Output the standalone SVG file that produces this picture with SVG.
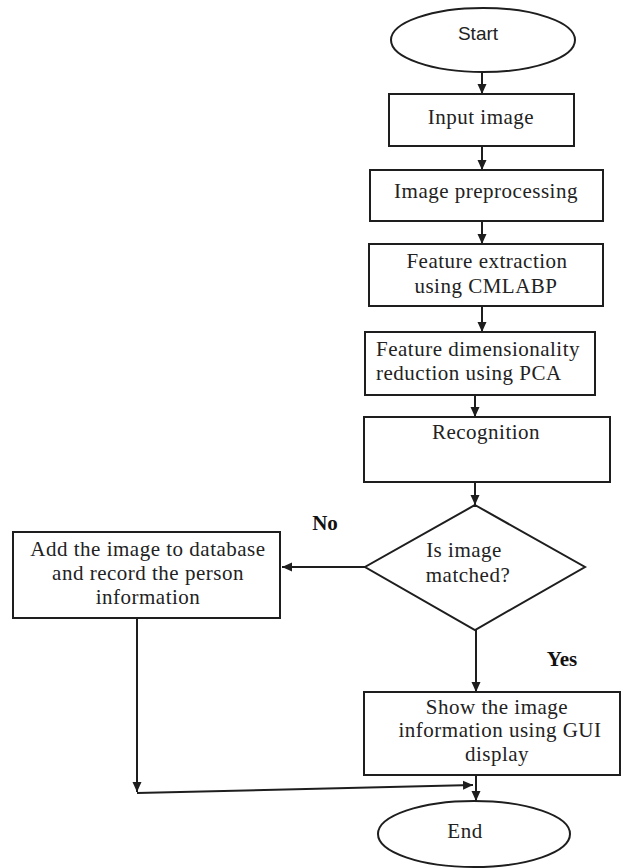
<svg xmlns="http://www.w3.org/2000/svg" width="621" height="868" viewBox="0 0 621 868">
<style>
.box{fill:#fff;stroke:#1e1e1e;stroke-width:2}
.t{font-family:"Liberation Serif","Times New Roman",serif;font-size:21px;letter-spacing:0.5px;fill:#222;text-anchor:middle}
.l{text-anchor:start}
.s{font-family:"Liberation Sans",Arial,sans-serif;font-size:19px;fill:#222;text-anchor:middle}
.b{font-family:"Liberation Serif","Times New Roman",serif;font-size:21px;font-weight:bold;fill:#111;text-anchor:middle}
.c{fill:none;stroke:#1e1e1e;stroke-width:2}
</style>
<defs>
<marker id="ah" markerUnits="userSpaceOnUse" markerWidth="10" markerHeight="10" viewBox="0 0 10 10" refX="10" refY="5" orient="auto">
<path d="M0,0.5 L10,5 L0,9.5 Z" fill="#1e1e1e"/>
</marker>
</defs>
<rect width="621" height="868" fill="#fff"/>
<g id="connectors">
<line class="c" x1="482" y1="72" x2="482" y2="94" marker-end="url(#ah)"/>
<line class="c" x1="482" y1="146" x2="482" y2="170" marker-end="url(#ah)"/>
<line class="c" x1="482" y1="221" x2="482" y2="244" marker-end="url(#ah)"/>
<line class="c" x1="482" y1="306" x2="482" y2="332" marker-end="url(#ah)"/>
<line class="c" x1="475" y1="395" x2="475" y2="417" marker-end="url(#ah)"/>
<line class="c" x1="475" y1="482" x2="475" y2="505" marker-end="url(#ah)"/>
<line class="c" x1="365" y1="567" x2="282" y2="567" marker-end="url(#ah)"/>
<line class="c" x1="476" y1="630" x2="476" y2="692" marker-end="url(#ah)"/>
<line class="c" x1="137" y1="618" x2="137" y2="792" marker-end="url(#ah)"/>
<line class="c" x1="137" y1="793" x2="473" y2="785" marker-end="url(#ah)"/>
<line class="c" x1="476" y1="775" x2="476" y2="801" marker-end="url(#ah)"/>
</g>
<g id="start">
<ellipse class="box" cx="483" cy="40" rx="92" ry="32"/>
<text class="s" x="478" y="40">Start</text>
</g>
<g id="input">
<rect class="box" x="389" y="94" width="185" height="52"/>
<text class="t" x="481" y="124">Input image</text>
</g>
<g id="preprocess">
<rect class="box" x="370" y="170" width="233" height="51"/>
<text class="t" x="486" y="198">Image preprocessing</text>
</g>
<g id="extract">
<rect class="box" x="369" y="244" width="234" height="62"/>
<text class="t" x="487" y="268">Feature extraction</text>
<text class="t" x="486" y="293">using CMLABP</text>
</g>
<g id="reduce">
<rect class="box" x="365" y="332" width="230" height="63"/>
<text class="t l" x="376" y="356">Feature dimensionality</text>
<text class="t l" x="376" y="380">reduction using PCA</text>
</g>
<g id="recognition">
<rect class="box" x="364" y="417" width="246" height="65"/>
<text class="t" x="486" y="439">Recognition</text>
</g>
<g id="decision">
<polygon class="box" points="475,505 585,567 475,630 365,567"/>
<text class="t" x="464" y="557">Is image</text>
<text class="t" x="468" y="582">matched?</text>
</g>
<g id="add">
<rect class="box" x="13" y="532" width="267" height="86"/>
<text class="t" x="148" y="556">Add the image to database</text>
<text class="t" x="148" y="580">and record the person</text>
<text class="t" x="148" y="604">information</text>
</g>
<g id="show">
<rect class="box" x="364" y="692" width="256" height="83"/>
<text class="t" x="497" y="714">Show the image</text>
<text class="t" x="500" y="737">information using GUI</text>
<text class="t" x="497" y="761">display</text>
</g>
<g id="end">
<ellipse class="box" cx="474" cy="834" rx="96" ry="33"/>
<text class="t" x="465" y="838">End</text>
</g>
<g id="labels">
<text class="b" x="325" y="530">No</text>
<text class="b" x="562" y="666">Yes</text>
</g>
</svg>
